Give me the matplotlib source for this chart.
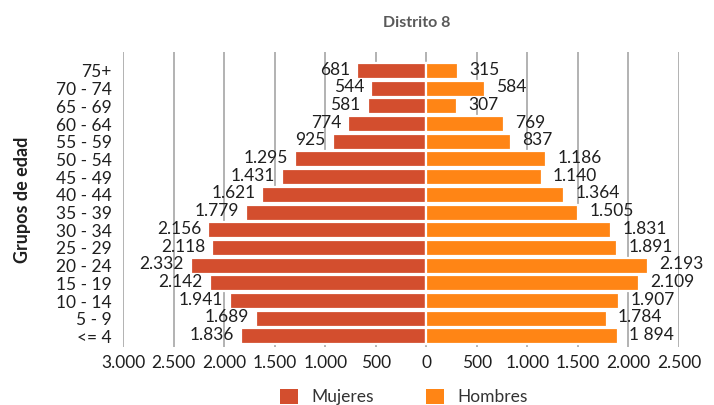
import matplotlib
matplotlib.use("Agg")
import matplotlib.pyplot as plt
from matplotlib.patches import Patch

plt.rcParams['font.family'] = ['Lato', 'DejaVu Sans']

grupos = ["<= 4", "5 - 9", "10 - 14", "15 - 19", "20 - 24", "25 - 29", "30 - 34",
          "35 - 39", "40 - 44", "45 - 49", "50 - 54", "55 - 59", "60 - 64",
          "65 - 69", "70 - 74", "75+"]
mujeres = [1836, 1689, 1941, 2142, 2332, 2118, 2156, 1779, 1621, 1431, 1295,
           925, 774, 581, 544, 681]
hombres = [1894, 1784, 1907, 2109, 2193, 1891, 1831, 1505, 1364, 1140, 1186,
           837, 769, 307, 584, 315]
mujeres_labels = ["1.836", "1.689", "1.941", "2.142", "2.332", "2.118", "2.156",
                  "1.779", "1.621", "1.431", "1.295", "925", "774", "581", "544", "681"]
hombres_labels = ["1 894", "1.784", "1.907", "2.109", "2.193", "1.891", "1.831",
                  "1.505", "1.364", "1.140", "1.186", "837", "769", "307", "584", "315"]
xticks = [-3000, -2500, -2000, -1500, -1000, -500, 0, 500, 1000, 1500, 2000, 2500]
xtick_labels = ["3.000", "2.500", "2.000", "1.500", "1.000", "500", "0",
                "500", "1.000", "1.500", "2.000", "2.500"]

c_muj = "#D34E2E"
c_hom = "#FF8515"
txt = "#1F1F1F"

fig = plt.figure(figsize=(7.14, 4.05), dpi=100)
ax = fig.add_axes([0.1723, 0.143, 0.7787, 0.729])

y = list(range(len(grupos)))
ax.barh(y, [-v for v in mujeres], height=0.9, color=c_muj, edgecolor="white",
        linewidth=1.6, zorder=2)
ax.barh(y, hombres, height=0.9, color=c_hom, edgecolor="white",
        linewidth=1.6, zorder=2)

for yi, v, lab in zip(y, mujeres, mujeres_labels):
    ax.annotate(lab, (-v, yi), xytext=(-5, 1), textcoords="offset points",
                ha="right", va="center", fontsize=12.5, color=txt, zorder=3)
for yi, v, lab in zip(y, hombres, hombres_labels):
    ax.annotate(lab, (v, yi), xytext=(8, 1), textcoords="offset points",
                ha="left", va="center", fontsize=12.5, color=txt, zorder=3)

ax.set_xlim(-3000, 2500)
ax.set_ylim(-0.6, len(grupos) - 1 + 1.08)
ax.set_xticks(xticks)
ax.set_xticklabels(xtick_labels, fontsize=12.5, color=txt)
ax.set_yticks(y)
ax.set_yticklabels(grupos, fontsize=12.5, color=txt)
ax.tick_params(axis="both", length=0, pad=6)
ax.tick_params(axis="y", pad=8)
ax.xaxis.grid(True, color="#A6A6A6", linewidth=1.2, zorder=0)
ax.set_axisbelow(True)
for s in ax.spines.values():
    s.set_visible(False)

ax.set_ylabel("Grupos de edad", fontsize=13, fontweight="bold", color=txt)
ax.yaxis.set_label_coords(-0.165, 0.5)

fig.text(0.583, 0.943, "Distrito 8", ha="center", va="center", fontsize=11.5,
         fontweight="bold", color="#595959")

handles = [Patch(facecolor=c_muj, label="Mujeres"), Patch(facecolor=c_hom, label="Hombres")]
fig.legend(handles=handles, loc="center", bbox_to_anchor=(0.566, 0.02), ncol=2,
           frameon=False, fontsize=12.5, handlelength=1.0, handleheight=1.0,
           columnspacing=3.0, handletextpad=0.8, labelcolor="#333333")

fig.savefig("out.png", dpi=100)
